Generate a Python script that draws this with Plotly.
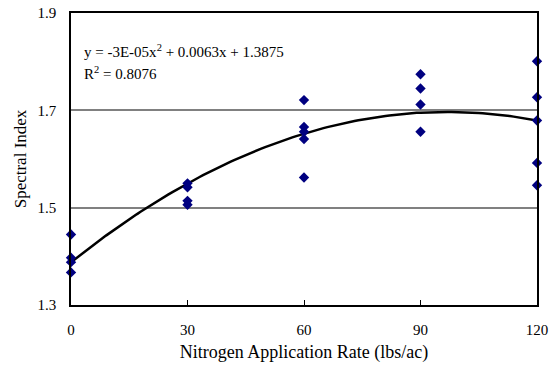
import numpy as np
import plotly.graph_objects as go

# Observations (nitrogen rate, spectral index)
n_rate = [0, 0, 0, 0,
          30, 30, 30, 30,
          60, 60, 60, 60, 60,
          90, 90, 90, 90,
          120, 120, 120, 120, 120]
spectral = [1.445, 1.397, 1.388, 1.367,
            1.550, 1.542, 1.514, 1.506,
            1.721, 1.666, 1.656, 1.641, 1.562,
            1.774, 1.745, 1.712, 1.656,
            1.801, 1.727, 1.679, 1.592, 1.546]
x_ticks = [0, 30, 60, 90, 120]
y_ticks = [1.3, 1.5, 1.7, 1.9]
eq_line1 = "y = -3E-05x<sup>2</sup> + 0.0063x + 1.3875"
eq_line2 = "R<sup>2</sup> = 0.8076"

# Polynomial trendline fitted from the data (order 2)
coef = np.polyfit(n_rate, spectral, 2)
xs = np.linspace(0, 120, 121)
ys = np.polyval(coef, xs)

FONT = "Liberation Serif"

fig = go.Figure()
fig.add_trace(go.Scatter(x=xs, y=ys, mode="lines",
                         line=dict(color="black", width=2.5),
                         hoverinfo="skip", showlegend=False))
fig.add_trace(go.Scatter(x=n_rate, y=spectral, mode="markers",
                         marker=dict(symbol="diamond", size=8, color="#000080"),
                         cliponaxis=False, showlegend=False))

fig.update_layout(
    width=552, height=372,
    margin=dict(l=71, r=15, t=13, b=67),
    paper_bgcolor="white", plot_bgcolor="white",
    font=dict(family=FONT, size=15, color="black"),
    xaxis=dict(range=[0, 120], tickvals=x_ticks, ticks="inside", ticklen=5,
               tickcolor="black", showgrid=False, zeroline=False,
               showline=True, linecolor="black", linewidth=1.5, mirror=True,
               automargin=False, ticklabelstandoff=10,
               title=dict(text="Nitrogen Application Rate (lbs/ac)",
                          font=dict(family=FONT, size=18), standoff=9),
               tickfont=dict(family=FONT, size=15)),
    yaxis=dict(range=[1.3, 1.9], tickvals=y_ticks, tickformat=".1f",
               ticks="", showgrid=True, gridcolor="#808080", gridwidth=1.5,
               zeroline=False, showline=True, linecolor="black", linewidth=1.5,
               mirror=True, automargin=False, ticklabelstandoff=10,
               title=dict(text="Spectral Index",
                          font=dict(family=FONT, size=17), standoff=7),
               tickfont=dict(family=FONT, size=15)),
    annotations=[
        dict(x=82, y=51, xref="paper", yref="paper", text=eq_line1,
             showarrow=False, xanchor="left", yanchor="middle",
             font=dict(family=FONT, size=15, color="black")),
        dict(x=82, y=73, xref="paper", yref="paper", text=eq_line2,
             showarrow=False, xanchor="left", yanchor="middle",
             font=dict(family=FONT, size=15, color="black")),
    ],
)

# convert annotation pixel positions to paper coordinates
pw = 552 - 71 - 15
ph = 372 - 13 - 67
for a in fig.layout.annotations:
    px, py = a.x, a.y
    a.x = (px - 71) / pw
    a.y = 1 - (py - 13) / ph

fig.write_html("out.html")
